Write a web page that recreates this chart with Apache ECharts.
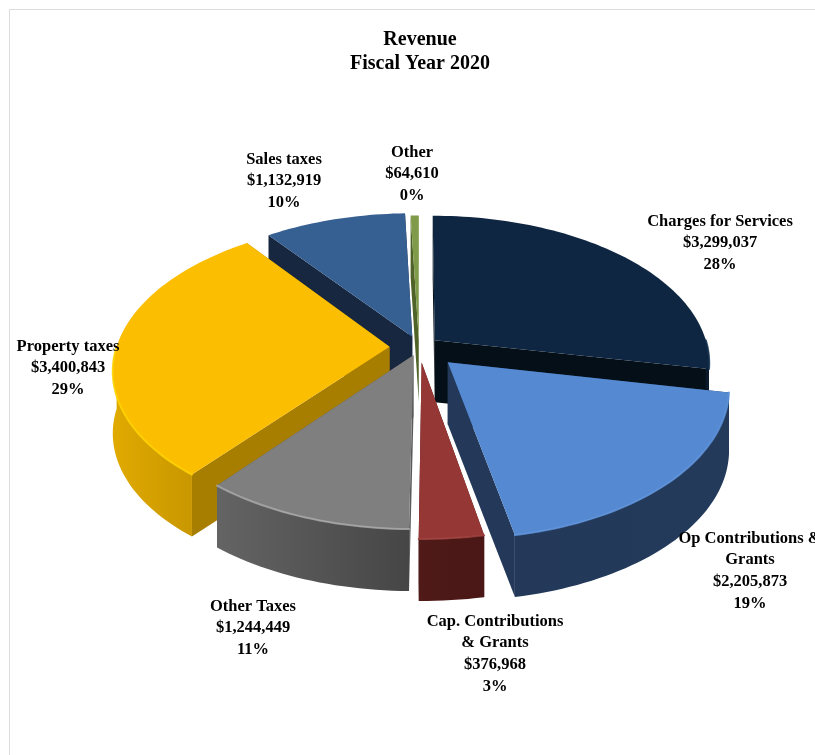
<!DOCTYPE html>
<html>
<head>
<meta charset="utf-8">
<title>Revenue Fiscal Year 2020</title>
<style>
  html, body { margin: 0; padding: 0; background: #fff; overflow: hidden; }
  #chart { width: 815px; height: 755px; }
</style>
<script src="https://cdn.jsdelivr.net/npm/echarts@6/dist/echarts.min.js"></script>
</head>
<body>
<div id="chart"></div>
<script>
// Revenue by source, clockwise from twelve o'clock
const categories = ['Charges for Services', 'Op Contributions &\nGrants', 'Cap. Contributions\n& Grants',
  'Other Taxes', 'Property taxes', 'Sales taxes', 'Other'];
const revenue = [3299037, 2205873, 376968, 1244449, 3400843, 1132919, 64610];
const percentLabels = [28, 19, 3, 11, 29, 10, 0];

// Slice appearance and how far each one is pulled out of the pie
const explode = [0.075, 0.147, 0.105, 0.06, 0.108, 0.075, 0.05];
const paintOrder = [0, 5, 6, 4, 1, 2, 3];
const topColors = ['#0e2641', '#558ad2', '#953735', '#7f7f7f', '#fbbe00', '#376092', '#7f9a48'];
const faceColors = ['#050f18', '#24395a', '#4f1a18', '#5a5a5a', '#a87e00', '#16273f', '#4f6228'];
const wallLeft = ['#0a1a2c', '#24395a', '#4f1a18', '#646464', '#e0aa00', '#16273f', '#4f6228'];
const wallRight = ['#0a1a2c', '#233a5b', '#4a1716', '#464646', '#c99700', '#16273f', '#4f6228'];
const rimColors = ['#14304f', '#5f93da', '#a04340', '#a8a8a8', '#ffd200', '#376092', '#7f9a48'];
const labelCentres = [[720, 243], [750, 571], [495, 654], [253, 628], [68, 368], [284, 181], [412, 174]];

// Tilted pie: a flat disc seen through a simple perspective
const pie = { cx: 419, cy: 347, rx: 273, ry: 145, persp: 0.15, depth: 62 };
const LABEL_FONT = 'bold 16.5px "Liberation Serif", "Times New Roman", serif';

const total = revenue.reduce((a, b) => a + b, 0);
const startFractions = revenue.map((_, i) => revenue.slice(0, i).reduce((a, b) => a + b, 0) / total);

function project(u, v) {
  const s = 1 / (1 + pie.persp * v);
  return [pie.cx + pie.rx * u * s, pie.cy - pie.ry * v * s];
}
function polar(angle, radius, off) {
  return project(off[0] + radius * Math.sin(angle), off[1] + radius * Math.cos(angle));
}
function dropped(p) { return [p[0], p[1] + pie.depth]; }
function arcPoints(a0, a1, off) {
  const n = Math.max(2, Math.ceil((a1 - a0) / (Math.PI / 120)));
  const pts = [];
  for (let k = 0; k <= n; k++) pts.push(polar(a0 + (a1 - a0) * k / n, 1, off));
  return pts;
}

function renderSlice(params, api) {
  const i = params.dataIndex;
  const share = api.value(0) / total;
  const a0 = startFractions[i] * 2 * Math.PI;
  const a1 = a0 + share * 2 * Math.PI;
  const mid = (a0 + a1) / 2;
  const off = [explode[i] * Math.sin(mid), explode[i] * Math.cos(mid)];
  const apex = project(off[0], off[1]);
  const rank = paintOrder.indexOf(i) * 10 + 1;
  const children = [];

  const cutFace = (angle) => {
    const rimPoint = polar(angle, 1, off);
    children.push({
      type: 'polygon', z2: rank,
      shape: { points: [apex, rimPoint, dropped(rimPoint), dropped(apex)] },
      style: { fill: faceColors[i] }
    });
  };
  cutFace(a0);
  cutFace(a1);

  // Outer wall exists only on the half of the rim that faces the viewer
  const w0 = Math.max(a0, Math.PI / 2);
  const w1 = Math.min(a1, 1.5 * Math.PI);
  if (w1 > w0) {
    const rim = arcPoints(w0, w1, off);
    children.push({
      type: 'polygon', z2: rank + 1,
      shape: { points: rim.concat(rim.map(dropped).reverse()) },
      style: {
        fill: new echarts.graphic.LinearGradient(0, 0, 1, 0, [
          { offset: 0, color: wallLeft[i] },
          { offset: 1, color: wallRight[i] }
        ])
      }
    });
  }

  children.push({
    type: 'polygon', z2: rank + 2,
    shape: { points: [apex].concat(arcPoints(a0, a1, off)) },
    style: { fill: topColors[i] }
  });

  if (w1 > w0) {
    children.push({
      type: 'polyline', z2: rank + 3,
      shape: { points: arcPoints(w0, w1, off) },
      style: { fill: 'none', stroke: rimColors[i], lineWidth: 2, lineCap: 'round', opacity: 0.85 }
    });
  }

  const [lx, ly] = labelCentres[i];
  children.push({
    type: 'text', z2: 200,
    style: {
      text: categories[i] + '\n$' + api.value(0).toLocaleString('en-US') + '\n' + percentLabels[i] + '%',
      x: lx, y: ly, font: LABEL_FONT, fill: '#000',
      align: 'center', verticalAlign: 'middle', lineHeight: 21.7
    }
  });
  return { type: 'group', children };
}

const chart = echarts.init(document.getElementById('chart'), null, { renderer: 'canvas' });
chart.setOption({
  animation: false,
  backgroundColor: '#fff',
  title: {
    text: 'Revenue\nFiscal Year 2020',
    left: 420, top: 28, textAlign: 'center', padding: 0,
    textStyle: {
      fontFamily: '"Liberation Serif", "Times New Roman", serif',
      fontWeight: 'bold', fontSize: 20, lineHeight: 24, color: '#000'
    }
  },
  graphic: [{
    type: 'rect', silent: true,
    shape: { x: 9.5, y: 9.5, width: 900, height: 900 },
    style: { fill: 'none', stroke: '#dcdcdc', lineWidth: 1 }
  }],
  series: [{
    type: 'custom',
    coordinateSystem: 'none',
    silent: true,
    renderItem: renderSlice,
    data: revenue.map((v, i) => ({ name: categories[i], value: [v] }))
  }]
});
</script>
</body>
</html>
